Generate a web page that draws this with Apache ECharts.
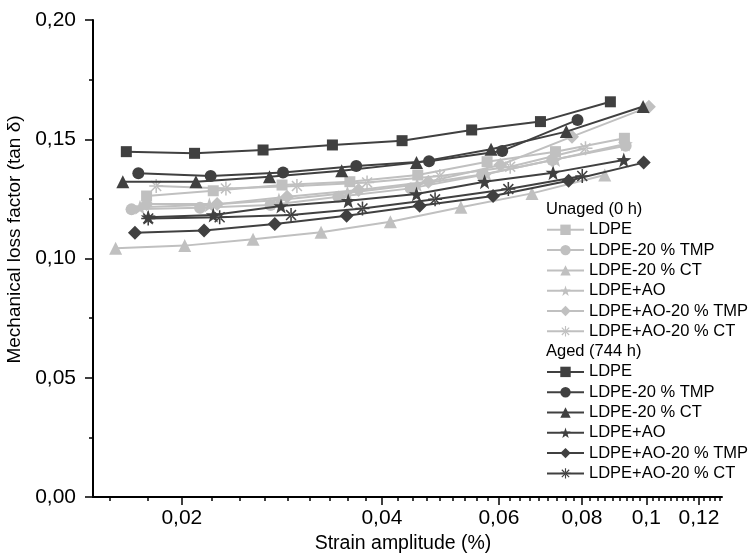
<!DOCTYPE html>
<html>
<head>
<meta charset="utf-8">
<script src="https://cdn.jsdelivr.net/npm/echarts@6/dist/echarts.min.js"></script>
<style>html,body{margin:0;padding:0;background:#fff}#c{width:750px;height:556px}</style>
</head>
<body>
<div id="c"></div>
<script>
// ---- data (strain amplitude in %, tan delta) ----
const names = ['LDPE', 'LDPE-20 % TMP', 'LDPE-20 % CT', 'LDPE+AO', 'LDPE+AO-20 % TMP', 'LDPE+AO-20 % CT'];
const groupTitles = ['Unaged (0 h)', 'Aged (744 h)'];
const xTickLabels = [0.02, 0.04, 0.06, 0.08, 0.1, 0.12];
const yTickLabels = [0, 0.05, 0.10, 0.15, 0.20];

// Unaged (0 h)
const unLDPE_x   = [0.0177, 0.0223, 0.0283, 0.0358, 0.0453, 0.0576, 0.0730, 0.0927];
const unLDPE_y   = [0.1262, 0.1284, 0.1308, 0.1322, 0.1350, 0.1406, 0.1448, 0.1504];
const unTMP_x    = [0.0168, 0.0213, 0.0272, 0.0344, 0.0442, 0.0566, 0.0722, 0.0931];
const unTMP_y    = [0.1206, 0.1213, 0.1224, 0.1259, 0.1294, 0.1350, 0.1413, 0.1473];
const unCT_x     = [0.0159, 0.0202, 0.0256, 0.0324, 0.0412, 0.0526, 0.0673, 0.0866];
const unCT_y     = [0.1043, 0.1054, 0.1081, 0.1110, 0.1154, 0.1215, 0.1273, 0.1350];
const unAO_x     = [0.0173, 0.0220, 0.0280, 0.0355, 0.0452, 0.0575, 0.0730, 0.0930];
const unAO_y     = [0.1215, 0.1225, 0.1245, 0.1275, 0.1310, 0.1355, 0.1415, 0.1480];
const unAOTMP_x  = [0.0177, 0.0226, 0.0288, 0.0369, 0.0470, 0.0603, 0.0773, 0.1009];
const unAOTMP_y  = [0.1228, 0.1228, 0.1259, 0.1287, 0.1322, 0.1392, 0.1511, 0.1636];
const unAOCT_x   = [0.0183, 0.0233, 0.0298, 0.0380, 0.0489, 0.0624, 0.0810];
const unAOCT_y   = [0.1304, 0.1294, 0.1304, 0.1319, 0.1346, 0.1385, 0.1462];

// Aged (744 h)
const agLDPE_x   = [0.0165, 0.0209, 0.0265, 0.0337, 0.0429, 0.0546, 0.0693, 0.0883];
const agLDPE_y   = [0.1448, 0.1441, 0.1455, 0.1476, 0.1494, 0.1539, 0.1574, 0.1657];
const agTMP_x    = [0.0172, 0.0221, 0.0284, 0.0366, 0.0471, 0.0607, 0.0788];
const agTMP_y    = [0.1357, 0.1346, 0.1361, 0.1388, 0.1408, 0.1451, 0.1581];
const agCT_x     = [0.0163, 0.0210, 0.0271, 0.0348, 0.0451, 0.0584, 0.0758, 0.0989];
const agCT_y     = [0.1322, 0.1322, 0.1343, 0.1368, 0.1402, 0.1458, 0.1532, 0.1637];
const agAO_x     = [0.0178, 0.0223, 0.0282, 0.0356, 0.0451, 0.0571, 0.0724, 0.0925];
const agAO_y     = [0.1173, 0.1182, 0.1220, 0.1242, 0.1270, 0.1322, 0.1360, 0.1413];
const agAOTMP_x  = [0.0170, 0.0216, 0.0276, 0.0354, 0.0456, 0.0588, 0.0764, 0.0991];
const agAOTMP_y  = [0.1108, 0.1117, 0.1145, 0.1179, 0.1221, 0.1262, 0.1326, 0.1402];
const agAOCT_x   = [0.0178, 0.0228, 0.0292, 0.0374, 0.0481, 0.0620, 0.0801];
const agAOCT_y   = [0.1168, 0.1173, 0.1182, 0.1210, 0.1248, 0.1291, 0.1346];

// ---- styling ----
const FONT = "'Liberation Sans', Arial, Helvetica, sans-serif";
const LIGHT = '#c0c0c0', DARK = '#404040';
const STAR = 'path://M0,-10 L2.351,-3.236 L9.511,-3.090 L3.804,1.236 L5.878,8.090 L0,4 L-5.878,8.090 L-3.804,1.236 L-9.511,-3.090 L-2.351,-3.236 Z';
const AST = 'path://M-1.1,-10 L1.1,-10 L1.1,10 L-1.1,10 Z M-10,-1.1 L10,-1.1 L10,1.1 L-10,1.1 Z ' +
            'M7.85,6.29 L-6.29,-7.85 L-7.85,-6.29 L6.29,7.85 Z M-7.85,6.29 L6.29,-7.85 L7.85,-6.29 L-6.29,7.85 Z';
const symbols = ['rect', 'circle', 'triangle', STAR, 'diamond', AST];
const sizes = [11, 12, 13, 15, 14, 14];

const unX = [unLDPE_x, unTMP_x, unCT_x, unAO_x, unAOTMP_x, unAOCT_x];
const unY = [unLDPE_y, unTMP_y, unCT_y, unAO_y, unAOTMP_y, unAOCT_y];
const agX = [agLDPE_x, agTMP_x, agCT_x, agAO_x, agAOTMP_x, agAOCT_x];
const agY = [agLDPE_y, agTMP_y, agCT_y, agAO_y, agAOTMP_y, agAOCT_y];

function pairs(xs, ys) { return xs.map((x, i) => [x, ys[i]]); }
function mk(name, tag, xs, ys, i, color) {
  return {
    name: name + '|' + tag, type: 'line', xAxisIndex: 0, yAxisIndex: 0,
    data: pairs(xs, ys), symbol: symbols[i], symbolSize: sizes[i],
    itemStyle: { color: color }, lineStyle: { color: color, width: 2 },
    animation: false, silent: true, z: tag === 'a' ? 3 : 2
  };
}
const series = [];
names.forEach((n, i) => series.push(mk(n, 'u', unX[i], unY[i], i, LIGHT)));
names.forEach((n, i) => series.push(mk(n, 'a', agX[i], agY[i], i, DARK)));

// minor ticks (8 per major interval, Origin style)
const minorTicks = [];
const step = 0.02 / 9;
for (let k = -1; k < xTickLabels.length; k++) {
  const base = k < 0 ? 0.0 : xTickLabels[k];
  for (let j = 1; j <= 8; j++) {
    const v = k < 0 ? 0.02 - j * step : base + j * step;
    if (v > 0.0147 && v < 0.13) minorTicks.push(+v.toFixed(6));
  }
}

const XMIN = 0.0147, XMAX = 0.13;
const fmt = v => String(+(+v).toFixed(3)).replace('.', ',');

const HEAD = 209.5, ROW = 20.3, LH = 17;
const legendCommon = {
  orient: 'vertical', left: 546, itemWidth: 37, itemHeight: 13, itemGap: ROW - LH, padding: 0,
  selectedMode: false,
  textStyle: { fontFamily: FONT, fontSize: 16.5, color: '#000', lineHeight: LH },
  formatter: n => n.split('|')[0]
};

const option = {
  backgroundColor: '#fff',
  animation: false,
  grid: { left: 93, right: 28, top: 20, bottom: 59, containLabel: false, outerBoundsMode: 'none' },
  xAxis: [{
    type: 'log', logBase: 10, min: XMIN, max: XMAX, position: 'bottom',
    name: 'Strain amplitude (%)', nameLocation: 'middle', nameGap: 35,
    nameTextStyle: { fontFamily: FONT, fontSize: 19.5, color: '#000', padding: [0, 9, 0, 0] },
    axisLine: { show: true, lineStyle: { color: '#000', width: 2 } },
    axisTick: { show: true, inside: false, length: 8, lineStyle: { color: '#000', width: 1.5 }, customValues: xTickLabels },
    axisLabel: { show: true, customValues: xTickLabels, formatter: fmt, margin: 11, fontFamily: FONT, fontSize: 21, color: '#000' },
    splitLine: { show: false }, minorTick: { show: false }, minorSplitLine: { show: false }
  }, {
    type: 'log', logBase: 10, min: XMIN, max: XMAX, position: 'bottom', gridIndex: 0,
    axisLine: { show: false },
    axisTick: { show: true, inside: false, length: 4, lineStyle: { color: '#000', width: 1.5 }, customValues: minorTicks },
    axisLabel: { show: false },
    splitLine: { show: false }
  }],
  yAxis: {
    type: 'value', min: 0, max: 0.2, interval: 0.05,
    name: 'Mechanical loss factor (tan δ)', nameLocation: 'middle', nameGap: 51, nameRotate: 90,
    nameTextStyle: { fontFamily: FONT, fontSize: 19, color: '#000', padding: [0, 0, 0, 38] },
    axisLine: { show: true, lineStyle: { color: '#000', width: 2 } },
    axisTick: { show: true, inside: false, length: 8, lineStyle: { color: '#000', width: 1.5 } },
    minorTick: { show: true, splitNumber: 2, length: 4, lineStyle: { color: '#000', width: 1.5 } },
    axisLabel: { formatter: v => (+v).toFixed(2).replace('.', ','), margin: 17, fontFamily: FONT, fontSize: 21, color: '#000' },
    splitLine: { show: false }
  },
  legend: [
    Object.assign({}, legendCommon, { top: HEAD + ROW - LH / 2, data: names.map(n => n + '|u') }),
    Object.assign({}, legendCommon, { top: HEAD + 8 * ROW - LH / 2, data: names.map(n => n + '|a') })
  ],
  graphic: [
    { type: 'text', x: 546, y: HEAD, style: { text: groupTitles[0], fontFamily: FONT, fontSize: 16.5, fill: '#000', verticalAlign: 'middle' } },
    { type: 'text', x: 546, y: HEAD + 7 * ROW, style: { text: groupTitles[1], fontFamily: FONT, fontSize: 16.5, fill: '#000', verticalAlign: 'middle' } }
  ],
  series: series
};

const chart = echarts.init(document.getElementById('c'), null, { renderer: 'canvas' });
chart.setOption(option);
</script>
</body>
</html>
